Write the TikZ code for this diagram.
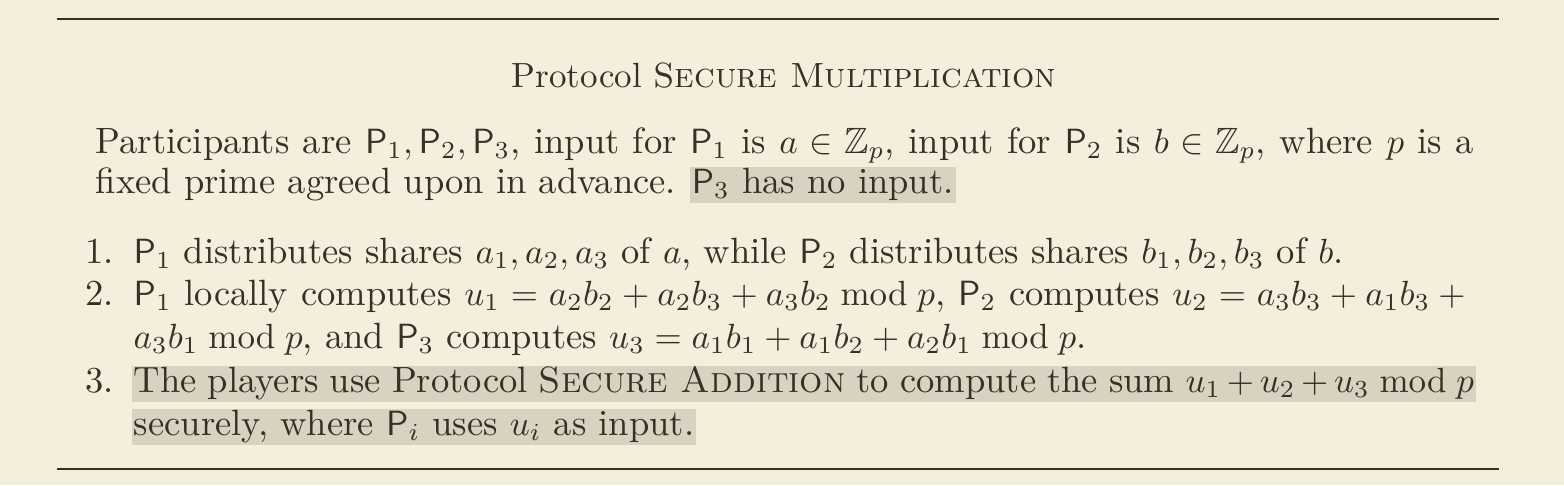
\documentclass[tikz,border=0pt]{standalone}
\usepackage{amsmath}
\usepackage{amssymb}
\usepackage{tikz}
\usetikzlibrary{positioning}
\definecolor{paperColor}{HTML}{F4EEDD}
\definecolor{inkColor}{HTML}{3A2F24}
\definecolor{markerColor}{HTML}{D8D2C1}
\tikzset{
  lineNode/.style={%
    anchor=base west, inner sep=0pt, text=inkColor,
    font={\fontsize{10.45pt}{12.5pt}\selectfont},
  },
  titleNode/.style={%
    anchor=base, inner sep=0pt, text=inkColor, font=\normalsize,
  },
  markedNode/.style={%
    lineNode, fill=markerColor, inner xsep=0.6pt,
    text height=7.3pt, text depth=2.9pt,
  },
  ruleLine/.style={%
    draw=inkColor, line width=0.85pt,
  }
}
\newcommand{\Pl}[1]{\mathsf{P}_{#1}}

\begin{document}
\begin{tikzpicture}[x=0.2857pt,y=-0.2857pt]
  \fill[paperColor] (0,0) rectangle (1564,485);
  \draw[ruleLine] (57,19) -- (1499,19);
  \draw[ruleLine] (57,469) -- (1499,469);

  \node[titleNode] (title) at (784,87) {Protocol \textsc{Secure Multiplication}};

  \node[lineNode] (intro1) at (95,153) {\makebox[393.7pt][s]{Participants are $\Pl1,\Pl2,\Pl3$, input for $\Pl1$ is $a\in\mathbb{Z}_p$, input for $\Pl2$ is $b\in\mathbb{Z}_p$, where $p$ is a}};
  \node[lineNode] (intro2) at (95,193) {fixed prime agreed upon in advance.};
  \node[markedNode,base right=3.5pt of intro2] (intro3) {$\Pl3$ has no input.};

  \node[lineNode] (num1) at (85,263) {1.};
  \node[lineNode] (item1) at (133,263) {$\Pl1$ distributes shares $a_1,a_2,a_3$ of $a$, while $\Pl2$ distributes shares $b_1,b_2,b_3$ of $b$.};
  \node[lineNode] (num2) at (85,305) {2.};
  \node[lineNode] (item2a) at (133,305) {\makebox[382.9pt][s]{$\Pl1$ locally computes $u_1=a_2b_2+a_2b_3+a_3b_2 \bmod p$, $\Pl2$ computes $u_2=a_3b_3+a_1b_3+{}$}};
  \node[lineNode] (item2b) at (133,348) {$a_3b_1 \bmod p$, and $\Pl3$ computes $u_3=a_1b_1+a_1b_2+a_2b_1 \bmod p$.};
  \node[lineNode] (num3) at (85,392) {3.};
  \node[markedNode] (item3a) at (131,392) {\makebox[382.9pt][s]{The players use Protocol \textsc{Secure Addition} to compute the sum $u_1+u_2+u_3 \bmod p$}};
  \node[markedNode] (item3b) at (131,435) {securely, where $\Pl{i}$ uses $u_i$ as input.};
\end{tikzpicture}
\end{document}
